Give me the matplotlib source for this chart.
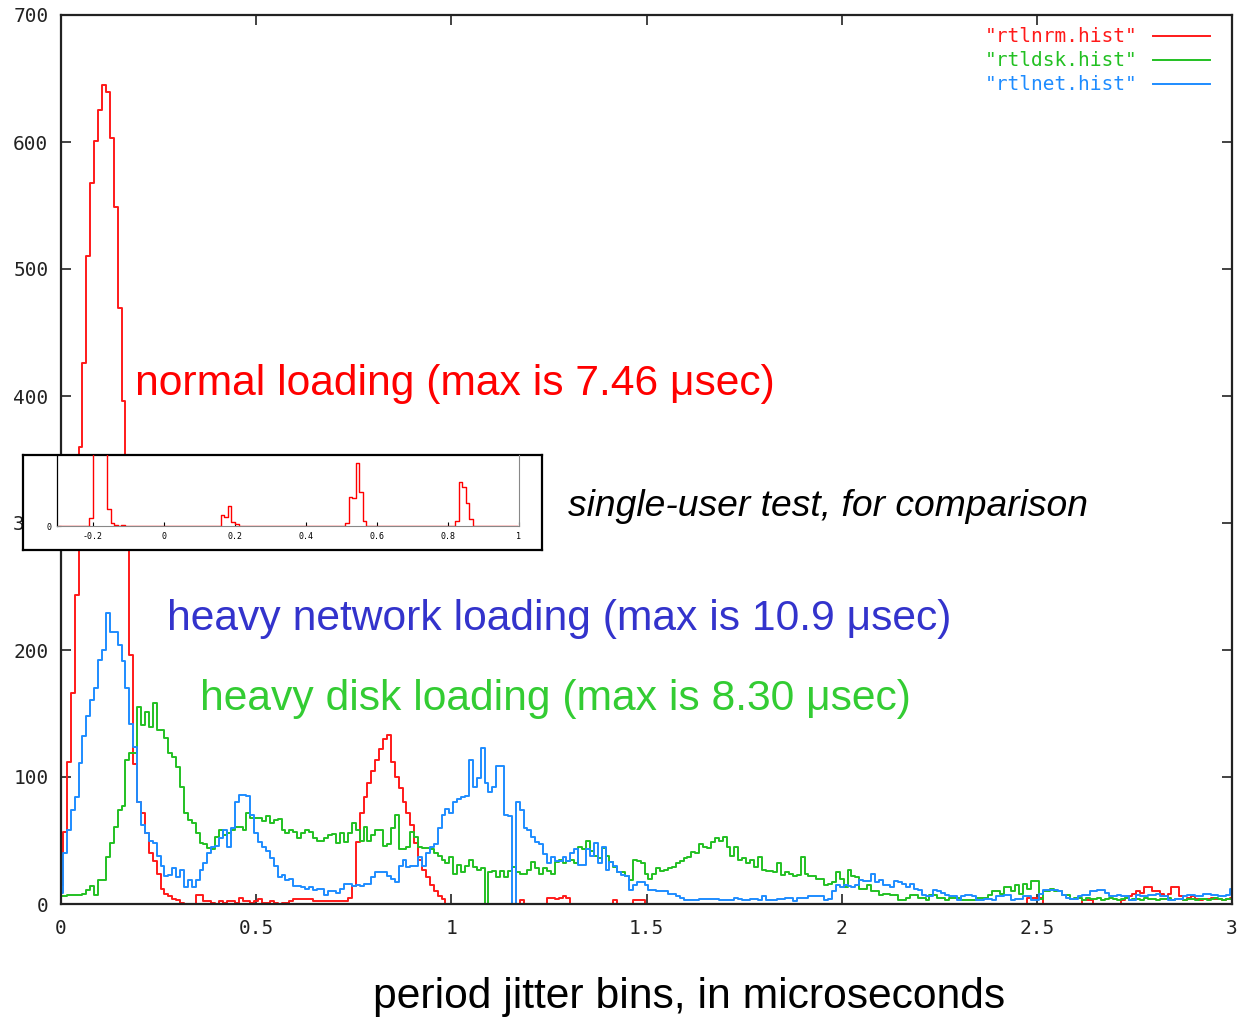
import numpy as np
import matplotlib.pyplot as plt

W, H = 1238, 1017

# histogram bin centres (usec), 0.01 apart
jitter = np.round(np.arange(301) * 0.01, 2)

rtlnrm = [
    15, 57, 112, 166, 243, 360, 426, 510, 568, 601,
    625, 645, 639, 603, 549, 469, 396, 300, 196, 110,
    80, 72, 56, 40, 34, 24, 12, 8, 6, 4,
    3, 1, 0, 0, 0, 7, 7, 2, 2, 1,
    0, 2, 1, 2, 2, 1, 5, 2, 2, 1,
    2, 4, 1, 1, 2, 1, 0, 1, 1, 2,
    4, 4, 4, 4, 4, 2, 2, 2, 2, 2,
    2, 2, 2, 2, 5, 14, 49, 72, 84, 95,
    105, 113, 122, 130, 133, 112, 100, 91, 80, 72,
    62, 48, 35, 27, 21, 15, 10, 6, 4, 0,
    0, 0, 0, 0, 0, 0, 0, 0, 0, 0,
    0, 0, 0, 0, 0, 0, 0, 0, 3, 0,
    0, 0, 0, 0, 0, 5, 5, 4, 5, 6,
    5, 0, 0, 0, 0, 0, 0, 0, 0, 0,
    0, 0, 3, 0, 0, 0, 0, 3, 3, 3,
    0, 0, 0, 0, 0, 0, 0, 0, 0, 0,
    0, 0, 0, 0, 0, 0, 0, 0, 0, 0,
    0, 0, 0, 0, 0, 0, 0, 0, 0, 0,
    0, 0, 0, 0, 0, 0, 0, 0, 0, 0,
    0, 0, 0, 0, 0, 0, 0, 0, 0, 0,
    0, 0, 0, 0, 0, 0, 0, 0, 0, 0,
    0, 0, 0, 0, 0, 0, 0, 0, 0, 0,
    0, 0, 0, 0, 0, 0, 0, 0, 0, 0,
    0, 0, 0, 0, 0, 0, 0, 0, 0, 0,
    0, 0, 0, 0, 0, 0, 0, 0, 5, 5,
    5, 5, 0, 0, 0, 0, 0, 0, 0, 0,
    0, 0, 3, 3, 3, 0, 0, 0, 0, 0,
    0, 0, 3, 5, 6, 8, 10, 9, 13, 13,
    10, 10, 8, 6, 8, 13, 13, 6, 3, 5,
    6, 4, 3, 4, 4, 5, 4, 4, 3, 4,
    5,
]

rtldsk = [
    6, 6, 7, 7, 7, 7, 8, 11, 14, 7,
    19, 19, 37, 48, 61, 74, 77, 113, 119, 119,
    155, 141, 151, 139, 158, 137, 137, 131, 119, 116,
    108, 92, 72, 66, 64, 56, 48, 47, 44, 43,
    53, 58, 54, 56, 58, 61, 61, 58, 72, 68,
    68, 68, 65, 69, 64, 66, 67, 58, 56, 58,
    57, 52, 56, 58, 57, 52, 50, 50, 52, 54,
    55, 48, 56, 49, 56, 64, 58, 50, 61, 50,
    54, 58, 58, 46, 47, 60, 70, 43, 43, 45,
    57, 53, 45, 44, 44, 43, 40, 38, 35, 32,
    37, 24, 31, 25, 30, 35, 29, 27, 28, 0,
    25, 26, 21, 26, 21, 26, 29, 25, 24, 24,
    27, 33, 28, 24, 28, 26, 24, 33, 35, 32,
    34, 35, 32, 45, 43, 50, 42, 38, 36, 44,
    38, 33, 29, 25, 25, 22, 19, 35, 34, 32,
    24, 20, 24, 28, 26, 27, 28, 29, 32, 34,
    36, 37, 41, 40, 47, 45, 44, 49, 52, 50,
    53, 45, 38, 45, 35, 36, 32, 35, 29, 37,
    27, 26, 26, 25, 32, 23, 25, 24, 22, 23,
    37, 24, 22, 22, 20, 20, 15, 16, 17, 25,
    20, 13, 27, 22, 21, 12, 12, 15, 10, 10,
    7, 8, 8, 7, 7, 3, 3, 5, 7, 7,
    5, 5, 3, 7, 7, 5, 5, 3, 5, 5,
    5, 3, 3, 3, 3, 5, 5, 5, 7, 10,
    10, 8, 13, 13, 10, 15, 8, 16, 12, 18,
    18, 4, 10, 10, 12, 10, 10, 7, 7, 4,
    5, 5, 3, 5, 4, 4, 5, 3, 4, 5,
    4, 3, 4, 5, 3, 4, 4, 3, 5, 4,
    4, 3, 4, 4, 5, 3, 4, 4, 3, 4,
    4, 3, 4, 4, 3, 4, 5, 4, 3, 4,
    4,
]

rtlnet = [
    9, 40, 58, 74, 84, 111, 132, 148, 161, 170,
    192, 200, 229, 214, 214, 204, 191, 170, 142, 124,
    80, 62, 56, 50, 48, 38, 30, 22, 23, 28,
    21, 27, 13, 19, 13, 19, 27, 32, 40, 45,
    46, 52, 58, 45, 60, 80, 86, 86, 85, 70,
    56, 49, 45, 42, 36, 30, 21, 23, 19, 20,
    14, 14, 13, 12, 13, 11, 12, 12, 7, 10,
    10, 9, 12, 16, 16, 14, 15, 14, 16, 16,
    21, 25, 25, 25, 22, 20, 17, 30, 35, 29,
    30, 30, 37, 30, 40, 45, 47, 60, 70, 75,
    72, 80, 83, 84, 85, 113, 92, 99, 123, 95,
    88, 92, 109, 109, 70, 69, 0, 80, 74, 60,
    58, 53, 49, 47, 39, 32, 37, 34, 34, 37,
    34, 40, 43, 31, 31, 43, 38, 48, 32, 45,
    27, 33, 30, 25, 23, 22, 11, 15, 17, 17,
    15, 11, 11, 10, 10, 10, 8, 8, 6, 5,
    3, 3, 3, 3, 4, 4, 4, 4, 4, 3,
    3, 3, 3, 5, 4, 3, 3, 4, 4, 3,
    6, 3, 3, 3, 4, 4, 5, 5, 2, 5,
    5, 5, 6, 6, 6, 6, 3, 4, 10, 15,
    13, 15, 14, 13, 15, 19, 18, 18, 24, 17,
    19, 15, 15, 13, 18, 17, 16, 13, 16, 12,
    11, 7, 6, 6, 11, 10, 9, 7, 6, 6,
    3, 6, 7, 7, 6, 3, 3, 4, 4, 3,
    6, 6, 7, 7, 3, 4, 4, 6, 6, 3,
    3, 8, 11, 11, 11, 11, 10, 7, 5, 4,
    4, 6, 7, 7, 10, 10, 11, 11, 9, 6,
    6, 7, 6, 6, 3, 3, 7, 6, 6, 7,
    7, 8, 6, 6, 3, 3, 4, 4, 6, 7,
    7, 6, 6, 8, 8, 7, 7, 6, 6, 7,
    12,
]

# single-user inset: only the non-empty bins
single_x = [-0.205, -0.195, -0.185, -0.175, -0.165, -0.155, -0.145, -0.135, -0.115,
            0.165, 0.175, 0.185, 0.195, 0.205,
            0.515, 0.525, 0.535, 0.545, 0.555, 0.565,
            0.825, 0.835, 0.845, 0.855, 0.865]
single_n = [58, 2600, 3400, 2900, 1500, 120, 21, 10, 8,
            77, 63, 141, 28, 14,
            21, 206, 198, 441, 241, 37,
            37, 312, 277, 160, 47]

RED, GREEN, BLUE = '#ff1a1a', '#22c022', '#1e8cff'
mono = 'DejaVu Sans Mono'
sans = 'Liberation Sans'


def fx(x):
    return x / W


def fy(y):
    return 1 - y / H


fig = plt.figure(figsize=(W / 100, H / 100), dpi=100)
ax = fig.add_axes([fx(61), fy(904), (1232 - 61) / W, (904 - 15) / H])

ax.step(jitter, rtlnrm, where='mid', color=RED, lw=1.4)
ax.step(jitter, rtldsk, where='mid', color=GREEN, lw=1.4)
ax.step(jitter, rtlnet, where='mid', color=BLUE, lw=1.4)

ax.set_xlim(0, 3)
ax.set_ylim(0, 700)
ax.set_xticks([0, 0.5, 1, 1.5, 2, 2.5, 3])
ax.set_xticklabels(['0', '0.5', '1', '1.5', '2', '2.5', '3'])
ax.set_yticks(range(0, 701, 100))
ax.tick_params(direction='in', length=7, width=1.2, top=True, right=True,
               labelsize=14, colors='#222222')
ax.tick_params(axis='x', pad=11)
ax.tick_params(axis='y', pad=9)
for lab in ax.get_xticklabels() + ax.get_yticklabels():
    lab.set_family(mono)
for s in ax.spines.values():
    s.set_linewidth(1.6)
    s.set_color('#222222')

# gnuplot style key: label, then sample line to its right
for i, (name, col) in enumerate([('"rtlnrm.hist"', RED), ('"rtldsk.hist"', GREEN),
                                  ('"rtlnet.hist"', BLUE)]):
    yk = (904 - (36 + 24 * i)) / 889
    ax.text(0.9197, yk, name, transform=ax.transAxes, ha='right', va='center',
            color=col, family=mono, fontsize=14)
    ax.plot([0.9325, 0.9812], [yk, yk], transform=ax.transAxes, color=col, lw=1.4)

# inset: single-user test
box = fig.add_axes([fx(23), fy(550), (542 - 23) / W, (550 - 455) / H], zorder=5)
box.set_facecolor('white')
box.set_xticks([])
box.set_yticks([])
for s in box.spines.values():
    s.set_linewidth(1.6)
    s.set_color('black')

ins = fig.add_axes([fx(57.5), fy(526), (519 - 57.5) / W, (526 - 455) / H], zorder=6)
ins.patch.set_alpha(0)
grid = np.round(np.arange(-0.295, 1.0, 0.01), 3)
counts = np.zeros(len(grid))
for x, n in zip(single_x, single_n):
    counts[np.argmin(np.abs(grid - x))] = n
ins.step(grid, counts, where='mid', color='red', lw=1.0)
ins.set_xlim(-0.3, 1.0)
ins.set_ylim(0, 500)
ins.set_xticks([-0.2, 0, 0.2, 0.4, 0.6, 0.8, 1])
ins.set_xticklabels(['-0.2', '0', '0.2', '0.4', '0.6', '0.8', '1'])
ins.set_yticks([0])
ins.tick_params(direction='in', length=3, width=0.8, labelsize=6, pad=4)
for lab in ins.get_xticklabels() + ins.get_yticklabels():
    lab.set_family(mono)
ins.spines['top'].set_visible(False)
ins.spines['right'].set_color('#888888')
ins.spines['bottom'].set_color('#888888')
ins.spines['left'].set_linewidth(0.9)

# annotations
fig.text(fx(135), fy(395), 'normal loading (max is 7.46 \u03bcsec)', color='#ff0000',
         family=sans, fontsize=30.7, va='baseline')
fig.text(fx(568), fy(516), 'single-user test, for comparison', color='black',
         family=sans, style='italic', fontsize=26.8, va='baseline')
fig.text(fx(167), fy(630), 'heavy network loading (max is 10.9 \u03bcsec)', color='#3333cc',
         family=sans, fontsize=30.7, va='baseline')
fig.text(fx(200), fy(710), 'heavy disk loading (max is 8.30 \u03bcsec)', color='#33cc33',
         family=sans, fontsize=30.7, va='baseline')
fig.text(fx(373), fy(1008), 'period jitter bins, in microseconds', color='black',
         family=sans, fontsize=30.7, va='baseline')

plt.savefig('out.png', dpi=100)
